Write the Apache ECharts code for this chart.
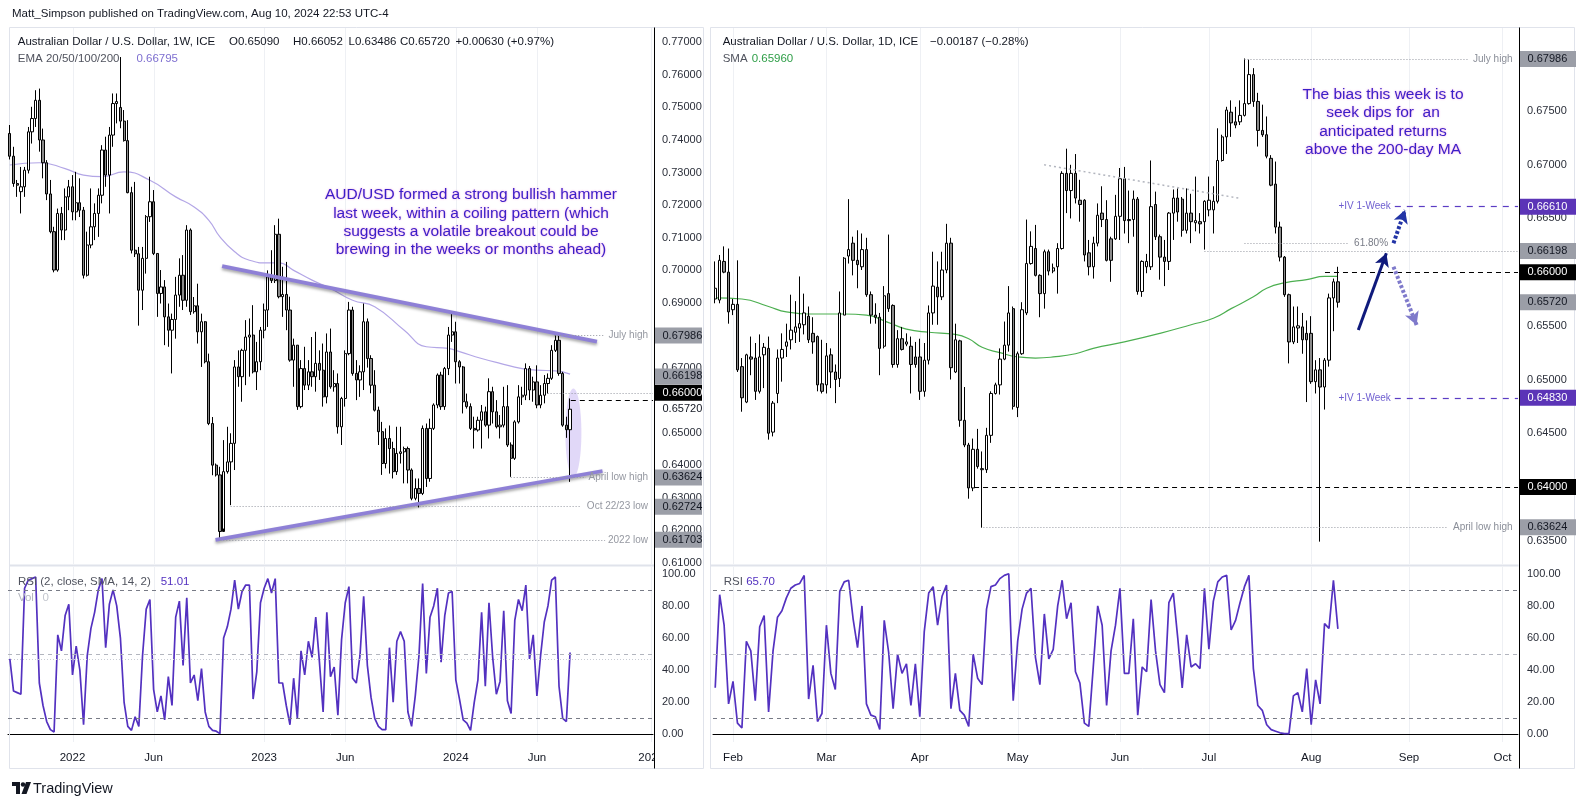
<!DOCTYPE html>
<html><head><meta charset="utf-8">
<script src="https://cdn.jsdelivr.net/npm/echarts@6/dist/echarts.min.js"></script>
<style>html,body{margin:0;padding:0;background:#fff;}#c{width:1584px;height:806px;}</style>
</head><body><div id="c"></div>
<script>
// ---------------- DATA ----------------
// Weekly AUD/USD candles from week of 2021-09-06: [open, close, low, high]
const weeklyCandles = [
[0.7420,0.7350,0.7340,0.7446],[0.7350,0.7266,0.7256,0.7379],[0.7266,0.7261,0.7225,0.7277],[0.7241,0.7256,0.7174,0.7317],[0.7256,0.7307,0.7225,0.7317],
[0.7307,0.7425,0.7297,0.7440],[0.7425,0.7466,0.7389,0.7502],[0.7466,0.7522,0.7440,0.7553],[0.7522,0.7400,0.7364,0.7558],[0.7400,0.7330,0.7282,0.7435],
[0.7330,0.7234,0.7215,0.7338],[0.7234,0.7118,0.7113,0.7277],[0.7118,0.7000,0.6993,0.7133],[0.7000,0.7174,0.6995,0.7189],[0.7174,0.7123,0.7092,0.7194],
[0.7123,0.7225,0.7092,0.7251],[0.7225,0.7256,0.7184,0.7277],[0.7256,0.7179,0.7153,0.7292],[0.7179,0.7207,0.7153,0.7302],[0.7207,0.7184,0.7163,0.7282],
[0.7184,0.6984,0.6974,0.7194],[0.6984,0.7077,0.6980,0.7118],[0.7077,0.7133,0.7067,0.7251],[0.7133,0.7174,0.7092,0.7205],[0.7174,0.7230,0.7102,0.7251],
[0.7230,0.7369,0.7205,0.7384],[0.7369,0.7292,0.7256,0.7410],[0.7292,0.7415,0.7174,0.7440],[0.7415,0.7512,0.7379,0.7543],[0.7512,0.7518,0.7451,0.7543],
[0.7500,0.7458,0.7436,0.7655],[0.7458,0.7398,0.7395,0.7492],[0.7398,0.7238,0.7236,0.7461],[0.7238,0.7061,0.7051,0.7256],[0.7061,0.7050,0.7040,0.7271],
[0.7050,0.6938,0.6829,0.7071],[0.6938,0.7036,0.6877,0.7071],[0.7036,0.7164,0.6989,0.7169],[0.7164,0.7210,0.7148,0.7287],[0.7210,0.7051,0.7046,0.7246],
[0.7051,0.6928,0.6856,0.7051],[0.6928,0.6948,0.6897,0.7000],[0.6948,0.6856,0.6769,0.6969],[0.6856,0.6815,0.6764,0.6897],[0.6815,0.6848,0.6682,0.6866],
[0.6848,0.6923,0.6789,0.6979],[0.6923,0.6984,0.6887,0.7036],[0.6984,0.6907,0.6877,0.7046],[0.6907,0.7123,0.6887,0.7138],[0.7123,0.6872,0.6862,0.7128],
[0.6872,0.6890,0.6866,0.6917],[0.6890,0.6810,0.6774,0.6958],[0.6810,0.6841,0.6702,0.6866],[0.6841,0.6718,0.6713,0.6843],[0.6718,0.6528,0.6523,0.6743],
[0.6528,0.6400,0.6369,0.6548],[0.6400,0.6370,0.6365,0.6405],[0.6370,0.6196,0.6170,0.6395],[0.6196,0.6380,0.6205,0.6477],[0.6380,0.6410,0.6374,0.6518],
[0.6410,0.6467,0.6277,0.6498],[0.6467,0.6702,0.6385,0.6723],[0.6702,0.6672,0.6641,0.6753],[0.6672,0.6753,0.6595,0.6758],[0.6753,0.6794,0.6646,0.6846],
[0.6794,0.6800,0.6672,0.6851],[0.6800,0.6687,0.6682,0.6892],[0.6687,0.6718,0.6631,0.6779],[0.6718,0.6815,0.6692,0.6825],[0.6815,0.6877,0.6790,0.6897],
[0.6877,0.6979,0.6825,0.6999],[0.6979,0.6968,0.6960,0.7061],[0.6968,0.7110,0.6960,0.7138],[0.7110,0.6918,0.6913,0.7158],[0.6918,0.6925,0.6856,0.7010],
[0.6925,0.6877,0.6815,0.7025],[0.6877,0.6723,0.6718,0.6918],[0.6723,0.6769,0.6641,0.6789],[0.6769,0.6580,0.6570,0.6769],[0.6580,0.6697,0.6575,0.6723],
[0.6697,0.6646,0.6631,0.6764],[0.6646,0.6687,0.6631,0.6723],[0.6687,0.6672,0.6641,0.6794],[0.6672,0.6713,0.6626,0.6810],[0.6713,0.6692,0.6662,0.6753],
[0.6692,0.6610,0.6580,0.6774],[0.6610,0.6748,0.6590,0.6805],[0.6748,0.6641,0.6635,0.6820],[0.6641,0.6651,0.6626,0.6692],[0.6651,0.6518,0.6497,0.6682],
[0.6518,0.6605,0.6462,0.6610],[0.6605,0.6743,0.6580,0.6753],[0.6743,0.6877,0.6738,0.6902],[0.6877,0.6682,0.6675,0.6887],[0.6682,0.6662,0.6600,0.6723],
[0.6662,0.6687,0.6610,0.6707],[0.6687,0.6841,0.6631,0.6897],[0.6841,0.6728,0.6700,0.6851],[0.6728,0.6646,0.6621,0.6738],[0.6646,0.6569,0.6565,0.6692],
[0.6569,0.6503,0.6462,0.6580],[0.6503,0.6405,0.6370,0.6533],[0.6405,0.6482,0.6390,0.6513],[0.6482,0.6451,0.6374,0.6522],[0.6451,0.6380,0.6359,0.6472],
[0.6380,0.6436,0.6370,0.6518],[0.6436,0.6441,0.6405,0.6518],[0.6441,0.6451,0.6344,0.6457],[0.6451,0.6385,0.6344,0.6457],[0.6385,0.6298,0.6292,0.6390],
[0.6298,0.6328,0.6292,0.6359],[0.6328,0.6313,0.6270,0.6359],[0.6313,0.6513,0.6308,0.6522],[0.6513,0.6359,0.6333,0.6528],[0.6359,0.6513,0.6349,0.6543],
[0.6513,0.6585,0.6508,0.6590],[0.6585,0.6677,0.6575,0.6682],[0.6677,0.6580,0.6570,0.6687],[0.6580,0.6697,0.6570,0.6702],[0.6697,0.6800,0.6677,0.6825],
[0.6800,0.6810,0.6779,0.6872],[0.6810,0.6718,0.6651,0.6841],[0.6718,0.6702,0.6651,0.6723],[0.6702,0.6595,0.6559,0.6705],[0.6595,0.6580,0.6574,0.6620],
[0.6580,0.6513,0.6508,0.6590],[0.6513,0.6508,0.6451,0.6549],[0.6508,0.6538,0.6503,0.6549],[0.6538,0.6564,0.6451,0.6585],[0.6564,0.6523,0.6518,0.6580],
[0.6523,0.6626,0.6482,0.6667],[0.6626,0.6564,0.6528,0.6641],[0.6564,0.6518,0.6513,0.6600],[0.6518,0.6523,0.6482,0.6554],[0.6523,0.6580,0.6516,0.6641],
[0.6580,0.6462,0.6456,0.6646],[0.6462,0.6421,0.6364,0.6470],[0.6421,0.6533,0.6416,0.6538],[0.6533,0.6610,0.6528,0.6646],[0.6610,0.6615,0.6585,0.6641],
[0.6615,0.6697,0.6600,0.6713],[0.6697,0.6631,0.6600,0.6705],[0.6631,0.6656,0.6595,0.6672],[0.6656,0.6585,0.6575,0.6707],[0.6585,0.6615,0.6575,0.6646],
[0.6615,0.6651,0.6590,0.6677],[0.6651,0.6667,0.6620,0.6682],[0.6667,0.6753,0.6662,0.6769],[0.6753,0.6784,0.6748,0.6799],[0.6784,0.6682,0.6675,0.6799],
[0.6682,0.6523,0.6518,0.6687],[0.6523,0.6509,0.6484,0.6549],[0.65090,0.65720,0.63486,0.66052]
];
// Weekly RSI(2)
const weeklyRSI = [
47,27,26,25,91,96,97,98,32,18, 8,3,1.5,62,52,74,81,37,55,40, 6,49,66,76,90,97,54,81,90,80,
60,20,5,2.5,11,5,49,78,84,28, 14,24,9,36,18,73,83,43,85,32, 37,21,41,14,5,2.5,2,0.5,60,67,
78,96,78,89,93,93,22,39,82,91, 97,88,97,32,32,18,6,35,10,52, 37,58,48,73,45,14,76,36,42,12,
59,82,92,35,32,49,86,43,23,10, 5,3,3,54,20,58,64,58,14,5, 24,49,94,38,73,80,91,45,74,88,
89,34,22,9,7,2.5,20,34,76,30, 82,48,25,33,77,21,13,71,84,77, 93,47,62,24,49,70,80,96,98,30,
10,8,51.01
];
// Weekly EMA line read at [week index, value]
const emaPoints = [[0,0.7323],[8,0.7330],[15,0.7312],[20,0.7292],[25,0.7287],[31,0.7302],[38,0.7276],[45,0.7225],[50,0.7194],[54,0.7153],[57,0.7102],[61,0.7056],[65,0.7030],[70,0.7022],[73,0.7022],[77,0.6999],[82,0.6969],[87,0.6943],[93,0.6907],[99,0.6887],[107,0.6815],[113,0.6764],[119,0.6759],[122,0.6749],[128,0.6728],[133,0.6713],[139,0.6697],[143,0.6692],[148,0.6690],[152,0.6680]];

// Daily candles from 2024-01-26 (weekdays): [open, close, low, high]
const dailyCandles = [
[0.6575,0.6585,0.6571,0.6610],[0.6574,0.6611,0.6571,0.6616],[0.6610,0.6600,0.6599,0.6624],[0.6600,0.6563,0.6552,0.6622],[0.6565,0.6570,0.6560,0.6575],
[0.6570,0.6509,0.6507,0.6611],[0.6512,0.6483,0.6470,0.6520],[0.6479,0.6523,0.6478,0.6524],[0.6521,0.6519,0.6504,0.6540],[0.6520,0.6489,0.6481,0.6534],
[0.6489,0.6521,0.6487,0.6542],[0.6523,0.6530,0.6492,0.6534],[0.6529,0.6450,0.6444,0.6540],[0.6451,0.6478,0.6447,0.6480],[0.6487,0.6520,0.6478,0.6528],
[0.6520,0.6528,0.6498,0.6543],[0.6531,0.6535,0.6521,0.6552],[0.6537,0.6546,0.6528,0.6579],[0.6544,0.6549,0.6534,0.6573],[0.6548,0.6552,0.6535,0.6596],
[0.6551,0.6562,0.6542,0.6580],[0.6559,0.6537,0.6534,0.6568],[0.6543,0.6535,0.6524,0.6558],[0.6540,0.6495,0.6489,0.6541],[0.6496,0.6489,0.6487,0.6537],
[0.6495,0.6522,0.6487,0.6534],[0.6523,0.6507,0.6492,0.6529],[0.6507,0.6500,0.6478,0.6514],[0.6501,0.6562,0.6493,0.6582],[0.6560,0.6613,0.6560,0.6614],
[0.6615,0.6621,0.6608,0.6668],[0.6627,0.6611,0.6597,0.6633],[0.6611,0.6607,0.6585,0.6639],[0.6605,0.6621,0.6602,0.6636],[0.6621,0.6579,0.6577,0.6632],
[0.6579,0.6560,0.6552,0.6582],[0.6560,0.6558,0.6552,0.6571],[0.6558,0.6529,0.6504,0.6562],[0.6531,0.6578,0.6529,0.6587],[0.6580,0.6566,0.6563,0.6635],
[0.6569,0.6514,0.6511,0.6570],[0.6514,0.6538,0.6511,0.6546],[0.6538,0.6528,0.6527,0.6549],[0.6533,0.6535,0.6531,0.6543],[0.6531,0.6514,0.6487,0.6540],
[0.6521,0.6514,0.6511,0.6535],[0.6521,0.6489,0.6481,0.6538],[0.6489,0.6518,0.6484,0.6534],[0.6518,0.6562,0.6514,0.6569],[0.6562,0.6587,0.6551,0.6619],
[0.6586,0.6577,0.6551,0.6610],[0.6577,0.6602,0.6574,0.6619],[0.6602,0.6627,0.6599,0.6645],[0.6627,0.6511,0.6500,0.6632],[0.6507,0.6537,0.6506,0.6552],
[0.6536,0.6462,0.6456,0.6537],[0.6462,0.6439,0.6437,0.6493],[0.6439,0.6399,0.6389,0.6441],[0.6399,0.6435,0.6396,0.6445],[0.6435,0.6419,0.6417,0.6454],
[0.6416,0.6417,0.6362,0.6433],[0.6416,0.6448,0.6413,0.6455],[0.6448,0.6487,0.6441,0.6489],[0.6487,0.6495,0.6486,0.6497],[0.6495,0.6519,0.6486,0.6529],
[0.6519,0.6532,0.6518,0.6554],[0.6532,0.6562,0.6526,0.6587],[0.6566,0.6475,0.6472,0.6568],[0.6474,0.6524,0.6465,0.6526],[0.6524,0.6565,0.6523,0.6572],
[0.6562,0.6608,0.6560,0.6649],[0.6608,0.6624,0.6607,0.6638],[0.6622,0.6597,0.6596,0.6644],[0.6597,0.6580,0.6558,0.6598],[0.6580,0.6619,0.6566,0.6621],
[0.6619,0.6601,0.6597,0.6621],[0.6601,0.6604,0.6599,0.6608],[0.6605,0.6622,0.6580,0.6627],[0.6622,0.6692,0.6621,0.6694],[0.6692,0.6676,0.6655,0.6715],
[0.6676,0.6692,0.6650,0.6700],[0.6692,0.6669,0.6664,0.6710],[0.6667,0.6663,0.6647,0.6686],[0.6667,0.6616,0.6610,0.6668],[0.6618,0.6605,0.6597,0.6630],
[0.6605,0.6627,0.6594,0.6633],[0.6627,0.6653,0.6624,0.6664],[0.6655,0.6649,0.6642,0.6680],[0.6649,0.6611,0.6610,0.6667],[0.6631,0.6611,0.6591,0.6633],
[0.6631,0.6652,0.6630,0.6672],[0.6652,0.6687,0.6630,0.6697],[0.6687,0.6648,0.6636,0.6698],[0.6649,0.6648,0.6627,0.6676],[0.6649,0.6668,0.6633,0.6676],
[0.6668,0.6582,0.6579,0.6670],[0.6582,0.6610,0.6577,0.6611],[0.6605,0.6610,0.6599,0.6617],[0.6605,0.6661,0.6602,0.6704],[0.6663,0.6633,0.6630,0.6675],
[0.6633,0.6614,0.6593,0.6635],[0.6614,0.6610,0.6587,0.6630],[0.6610,0.6655,0.6602,0.6656],[0.6655,0.6669,0.6630,0.6677],[0.6669,0.6656,0.6647,0.6678],
[0.6668,0.6639,0.6633,0.6670],[0.6639,0.6655,0.6636,0.6678],[0.6655,0.6647,0.6627,0.6673],[0.6646,0.6648,0.6638,0.6689],[0.6647,0.6645,0.6636,0.6655],
[0.6647,0.6666,0.6621,0.6667],[0.6658,0.6667,0.6652,0.6689],[0.6658,0.6666,0.6636,0.6680],[0.6666,0.6704,0.6664,0.6734],[0.6704,0.6726,0.6703,0.6728],
[0.6726,0.6751,0.6710,0.6754],[0.6749,0.6739,0.6726,0.6760],[0.6740,0.6737,0.6734,0.6754],[0.6740,0.6746,0.6737,0.6760],[0.6746,0.6757,0.6745,0.6799],
[0.6757,0.6784,0.6756,0.6798],[0.6784,0.6759,0.6754,0.6790],[0.6759,0.6732,0.6717,0.6767],[0.6732,0.6728,0.6726,0.6756],[0.6728,0.6708,0.6706,0.6745],
[0.6706,0.6681,0.6680,0.6709],[0.6682,0.6642,0.6636,0.6703],[0.6642,0.6614,0.6610,0.6647],[0.6614,0.6579,0.6577,0.6615],[0.6579,0.6535,0.6515,0.6580],
[0.6535,0.6549,0.6533,0.6568],[0.6548,0.6550,0.6534,0.6568],[0.6549,0.6537,0.6524,0.6562],[0.6543,0.6537,0.6479,0.6555],[0.6543,0.6498,0.6496,0.6559],
[0.6498,0.6509,0.6487,0.6518],[0.6509,0.6493,0.6349,0.6520],[0.6493,0.6518,0.6472,0.6520],[0.6518,0.6576,0.6512,0.6580],[0.6576,0.6591,0.6545,0.6594],
[0.6591,0.6572,0.6567,0.6605]
];
// Daily RSI
const dailyRSI = [
29,87,68,19,33,7,4,58,52,21, 67,74,14,52,73,77,85,91,93,94, 99,22,43,8,13,68,38,28,89,95,
96,72,54,80,19,12,11,3,71,51, 16,50,38,44,18,44,11,64,88,92, 68,86,93,16,38,15,12,5,50,35,
31,78,92,93,97,99,100,21,58,78, 88,91,48,31,75,47,53,80,96,72, 82,39,32,7,5,42,80,68,18,52,
68,91,38,38,72,12,42,39,84,52, 31,26,82,88,60,29,62,42,44,41, 91,53,83,95,98,99,65,71,82,92,
99,41,18,15,6,3,2,1,0.5,0.5, 24,26,14,41,6,34,19,69,66,96, 65.70
];
// 200-day SMA read at [day index, value]
const smaPoints = [[0,0.6576],[6,0.6575],[12,0.6568],[16,0.6563],[23,0.6561],[29,0.6561],[34,0.6560],[39,0.6553],[43,0.6547],[48,0.6544],[54,0.6542],[57,0.6538],[60,0.6530],[64,0.6525],[68,0.6521],[72,0.6520],[76,0.6521],[81,0.6524],[85,0.6529],[92,0.6535],[100,0.6543],[107,0.6551],[112,0.6557],[116,0.6566],[121,0.6577],[124,0.6585],[128,0.6590],[133,0.6593],[137,0.6596],[140,0.6596]];

// Tick labels
const weekTickIdx = [17,39,69,91,121,143,174];
const weekTickText = ['2022','Jun','2023','Jun','2024','Jun','2025'];
const dayTickIdx = [4,25,46,68,91,111,134,156,177];
const dayTickText = ['Feb','Mar','Apr','May','Jun','Jul','Aug','Sep','Oct'];
const leftPriceTicks = [0.61,0.62,0.63,0.64,0.65,0.67,0.69,0.70,0.71,0.72,0.73,0.74,0.75,0.76,0.77];
const rightPriceTicks = [0.635,0.645,0.65,0.655,0.665,0.67,0.675];
const rsiTicks = [0,20,40,60,80,100];
const rsiLevels = [90,50,10];

// Price levels (annotations)
const leftLevels = [
  {v:0.67986, from:147.7, to:161.0, kind:'dot', text:'July high'},
  {v:0.66198, from:145.9, to:174.5, kind:'dot'},
  {v:0.66000, from:152.2, to:174.5, kind:'dash'},
  {v:0.63624, from:135.9, to:156.3, kind:'dot', text:'April low high'},
  {v:0.62724, from:59.9, to:154.9, kind:'dot', text:'Oct 22/23 low'},
  {v:0.61703, from:57.1, to:161.5, kind:'dot', text:'2022 low'}
];
const rightLevels = [
  {v:0.67986, from:119, to:169.4, kind:'dot', text:'July high', at:'edge'},
  {v:0.66269, from:119, to:142.3, kind:'dot', text:'61.80%', at:'after'},
  {v:0.66198, from:110, to:180.5, kind:'dot'},
  {v:0.66000, from:137.1, to:180.5, kind:'dash'},
  {v:0.66610, from:152.8, to:180.5, kind:'iv', text:'+IV 1-Week', at:'before'},
  {v:0.64830, from:152.8, to:180.5, kind:'iv', text:'+IV 1-Week', at:'before'},
  {v:0.64000, from:58.2, to:180.5, kind:'dash'},
  {v:0.63624, from:60.3, to:164.5, kind:'dot', text:'April low high', at:'edge'}
];
const leftTags = [
  {v:0.67986,k:'gray'},{v:0.66198,k:'gray'},{v:0.66000,k:'black'},{v:0.65720,k:'plain'},
  {v:0.63624,k:'gray'},{v:0.62724,k:'gray'},{v:0.61703,k:'gray'}
];
const rightTags = [
  {v:0.67986,k:'gray'},{v:0.66610,k:'purple'},{v:0.66198,k:'gray'},{v:0.66000,k:'black'},
  {v:0.65720,k:'gray'},{v:0.64830,k:'purple'},{v:0.64000,k:'black'},{v:0.63624,k:'gray'}
];
const upperTrend = [[57.6,0.7012],[159.3,0.6780]];
const lowerTrend = [[55.8,0.6170],[160.8,0.6382]];
const diagDotted = [[73.95,0.6700],[117.9,0.66688]];
const arrows = [
  {from:[144.6,0.65461], to:[150.9,0.66176], kind:'solid'},
  {from:[152.5,0.66269], to:[155.1,0.66579], kind:'dotNavy'},
  {from:[152.5,0.66051], to:[157.7,0.65508], kind:'dotLav'}
];
const hammerEllipse = {x:152.9, v:0.6500, vHalf:0.0136};

// ---------------- CHART ----------------
const WEEK_SLOTS = 175, DAY_SLOTS = 181;
function weekCats(n){const o=[];let t=Date.UTC(2021,8,6);for(let i=0;i<n;i++){o.push(new Date(t).toISOString().slice(0,10));t+=7*864e5;}return o;}
function dayCats(n){const o=[];let t=Date.UTC(2024,0,26);while(o.length<n){const d=new Date(t);const w=d.getUTCDay();if(w!==0&&w!==6)o.push(d.toISOString().slice(0,10));t+=864e5;}return o;}

const FONT = '"Liberation Sans", Arial, sans-serif';
const chart = echarts.init(document.getElementById('c'), null, {renderer:'canvas', width:1584, height:806});

const lineKinds = {
  dot:{color:'#9598a1', width:1, type:[1,2]},
  dash:{color:'#000000', width:1.2, type:[5,4]},
  iv:{color:'#5b3cc4', width:1.2, type:[6,6]}
};
const arrowKinds = {
  solid:{color:'#0f1a7c', width:3, type:'solid'},
  dotNavy:{color:'#2234a6', width:4, type:[3,2]},
  dotLav:{color:'#7f7acb', width:4, type:[3,2]}
};
function levelData(levels){
  return levels.map(l=>[{coord:[l.from,l.v], lineStyle:lineKinds[l.kind]},{coord:[l.to,l.v], lineStyle:lineKinds[l.kind]}]);
}
const candleStyle = {color:'#ffffff', color0:'#8a8a8a', borderColor:'#000000', borderColor0:'#000000', borderWidth:1};
const priceLabel = (ticks)=>({customValues:ticks, formatter:v=>Number(v).toFixed(5), color:'#2a2e39', fontSize:11, margin:9, fontFamily:FONT});
const rsiLabel = {customValues:rsiTicks, formatter:v=>Number(v).toFixed(2), color:'#2a2e39', fontSize:11, margin:9, fontFamily:FONT};
const noAxisBits = {axisLine:{show:false}, axisTick:{show:false}, splitLine:{show:false}};
function rsiMark(extra){
  const d = rsiLevels.map(v=>({yAxis:v, lineStyle:{color: v===50?'#b2b5be':'#787b86', type:[4,4], width:1}}));
  return {silent:true, symbol:['none','none'], label:{show:false}, animation:false, data:d.concat(extra||[])};
}

const option = {
  animation:false,
  backgroundColor:'#ffffff',
  textStyle:{fontFamily:FONT},
  grid:[
    {left:8, top:28, width:645, height:535, outerBoundsMode:'none', containLabel:false},
    {left:8, top:569, width:645, height:173.5, outerBoundsMode:'none', containLabel:false},
    {left:713, top:28, width:805, height:535, outerBoundsMode:'none', containLabel:false},
    {left:713, top:569, width:805, height:173.5, outerBoundsMode:'none', containLabel:false}
  ],
  xAxis:[
    {type:'category', gridIndex:0, data:weekCats(WEEK_SLOTS), show:false, boundaryGap:true},
    {type:'value', gridIndex:0, min:-0.5, max:WEEK_SLOTS-0.5, show:false},
    {type:'value', gridIndex:1, min:-0.5, max:WEEK_SLOTS-0.5, position:'bottom',
      axisLine:{show:true, lineStyle:{color:'#000', width:1}}, axisTick:{show:false}, splitLine:{show:false},
      axisLabel:{customValues:weekTickIdx, formatter:v=>{const k=weekTickIdx.indexOf(Math.round(v));return k<0?'':weekTickText[k];}, color:'#131722', fontSize:11.5, margin:9, fontFamily:FONT}},
    {type:'category', gridIndex:2, data:dayCats(DAY_SLOTS), show:false, boundaryGap:true},
    {type:'value', gridIndex:2, min:-0.5, max:DAY_SLOTS-0.5, show:false},
    {type:'value', gridIndex:3, min:-0.5, max:DAY_SLOTS-0.5, position:'bottom',
      axisLine:{show:true, lineStyle:{color:'#000', width:1}}, axisTick:{show:false}, splitLine:{show:false},
      axisLabel:{customValues:dayTickIdx, formatter:v=>{const k=dayTickIdx.indexOf(Math.round(v));return k<0?'':dayTickText[k];}, color:'#131722', fontSize:11.5, margin:9, fontFamily:FONT}}
  ],
  yAxis:[
    Object.assign({type:'value', gridIndex:0, min:0.60991, max:0.77443, position:'right', axisLabel:priceLabel(leftPriceTicks)}, noAxisBits),
    Object.assign({type:'value', gridIndex:1, min:-5.04, max:102.99, position:'right', axisLabel:rsiLabel}, noAxisBits),
    Object.assign({type:'value', gridIndex:2, min:0.63291, max:0.68274, position:'right', axisLabel:priceLabel(rightPriceTicks)}, noAxisBits),
    Object.assign({type:'value', gridIndex:3, min:-5.04, max:102.99, position:'right', axisLabel:rsiLabel}, noAxisBits)
  ],
  series:[
    {name:'AUDUSD 1W', type:'candlestick', xAxisIndex:0, yAxisIndex:0, data:weeklyCandles, barWidth:2.7, itemStyle:candleStyle, z:3},
    {name:'EMA', type:'line', xAxisIndex:1, yAxisIndex:0, data:emaPoints, smooth:0.5, symbol:'none', silent:true,
      lineStyle:{color:'#b3a6e6', width:1.2}, z:2,
      markLine:{silent:true, symbol:['none','none'], label:{show:false}, animation:false, data:levelData(leftLevels)}},
    {name:'Upper trend', type:'line', xAxisIndex:1, yAxisIndex:0, data:upperTrend, symbol:'none', silent:true, z:4,
      lineStyle:{color:'#8e80d6', width:3.8, shadowColor:'rgba(0,0,0,0.35)', shadowBlur:3, shadowOffsetY:2}},
    {name:'Lower trend', type:'line', xAxisIndex:1, yAxisIndex:0, data:lowerTrend, symbol:'none', silent:true, z:4,
      lineStyle:{color:'#8e80d6', width:3.8, shadowColor:'rgba(0,0,0,0.35)', shadowBlur:3, shadowOffsetY:2}},
    {name:'RSI W', type:'line', xAxisIndex:2, yAxisIndex:1, data:weeklyRSI.map((v,i)=>[i,v]), symbol:'none', silent:true,
      lineStyle:{color:'#5331c0', width:1.7}, z:3,
      markLine:rsiMark([{yAxis:46.7, lineStyle:{color:'#c9ccd4', type:[1,2], width:1}}])},
    {name:'AUDUSD 1D', type:'candlestick', xAxisIndex:3, yAxisIndex:2, data:dailyCandles, barWidth:2.9, itemStyle:candleStyle, z:3},
    {name:'SMA', type:'line', xAxisIndex:4, yAxisIndex:2, data:smaPoints, smooth:0.5, symbol:'none', silent:true,
      lineStyle:{color:'#4caf50', width:1.2}, z:2,
      markLine:{silent:true, symbol:['none','none'], label:{show:false}, animation:false,
        data: levelData(rightLevels).concat([
          [{coord:diagDotted[0], lineStyle:{color:'#b2b5be', width:1.5, type:[2,3]}},{coord:diagDotted[1], lineStyle:{color:'#b2b5be', width:1.5, type:[2,3]}}]
        ])}},
    {name:'Arrows', type:'line', xAxisIndex:4, yAxisIndex:2, data:[[0,null]], symbol:'none', silent:true, z:6,
      markLine:{silent:true, symbol:['none','none'], label:{show:false}, animation:false,
        data: arrows.map(a=>[{coord:a.from, symbol:'none', lineStyle:arrowKinds[a.kind]},{coord:a.to, symbol:'arrow', symbolSize:[11,13], lineStyle:arrowKinds[a.kind], itemStyle:{color:arrowKinds[a.kind].color}}])}},
    {name:'RSI D', type:'line', xAxisIndex:5, yAxisIndex:3, data:dailyRSI.map((v,i)=>[i,v]), symbol:'none', silent:true,
      lineStyle:{color:'#5331c0', width:1.7}, z:3, markLine:rsiMark()}
  ]
};
chart.setOption(option);

// ---------------- GRAPHIC OVERLAYS ----------------
function txt(x,y,text,opts){
  opts=opts||{};
  return {type:'text', x:x, y:y, z:opts.z||100, silent:true, style:{
    text:text, fill:opts.color||'#131722', font:(opts.weight||'normal')+' '+(opts.size||11.5)+'px '+FONT,
    align:opts.align||'left', verticalAlign:opts.va||'middle', textAlign:opts.align||'left', textVerticalAlign:opts.va||'middle',
    lineHeight:opts.lh, textShadowColor:opts.sc, textShadowBlur:opts.sb||0
  }};
}
function line(x1,y1,x2,y2,color,w,z){return {type:'line', silent:true, z:z||0, shape:{x1:x1,y1:y1,x2:x2,y2:y2}, style:{stroke:color, lineWidth:w||1}};}
function rect(x,y,w,h,fill,stroke,z){return {type:'rect', silent:true, z:z||0, shape:{x:x,y:y,width:w,height:h}, style:{fill:fill, stroke:stroke||null, lineWidth:1}};}

const g = [];
const xL = v=>chart.convertToPixel({xAxisIndex:1}, v);
const xR = v=>chart.convertToPixel({xAxisIndex:4}, v);
const yL = v=>chart.convertToPixel({yAxisIndex:0}, v);
const yR = v=>chart.convertToPixel({yAxisIndex:2}, v);
const axL = xL(WEEK_SLOTS-0.5)+1, axR = xR(DAY_SLOTS-0.5)+0.5;

// frames
g.push(rect(9.5,27.5,694,741,'rgba(0,0,0,0)','#e0e3eb',1));
g.push(rect(710.5,27.5,864,741,'rgba(0,0,0,0)','#e0e3eb',1));
g.push(line(9.5,565.5,axL,565.5,'#e0e3eb',2,1));
g.push(line(711,565.5,axR,565.5,'#e0e3eb',2,1));
// vertical gridlines
weekTickIdx.forEach(i=>{const x=Math.round(xL(i))+0.5; g.push(line(x,28,x,564,'#eef0f4',1,0)); g.push(line(x,567,x,742,'#eef0f4',1,0));});
dayTickIdx.forEach(i=>{const x=Math.round(xR(i))+0.5; g.push(line(x,28,x,564,'#eef0f4',1,0)); g.push(line(x,567,x,742,'#eef0f4',1,0));});
// axis vertical lines
g.push(line(Math.round(axL)+0.5,27.5,Math.round(axL)+0.5,768.5,'#000',1,50));
g.push(line(Math.round(axR)+0.5,27.5,Math.round(axR)+0.5,768.5,'#000',1,50));
// cover the price-scale column under the time axis (clips "2025")
g.push(rect(Math.round(axL)+1,744,703-Math.round(axL)-1,24,'#ffffff',null,90));

// level texts
leftLevels.forEach(l=>{ if(l.text) g.push(txt(axL-6, yL(l.v), l.text, {align:'right', size:10, color:'#9598a1', z:60})); });
rightLevels.forEach(l=>{
  if(!l.text) return;
  const y=yR(l.v); const col = l.kind==='iv' ? '#6f5fd0' : '#8a8e98';
  if(l.at==='edge') g.push(txt(axR-6, y, l.text, {align:'right', size:10, color:col, z:60}));
  else if(l.at==='after') g.push(txt(xR(l.to)+6, y, l.text, {align:'left', size:10, color:'#787b86', z:60}));
  else g.push(txt(xR(l.from)-4, y, l.text, {align:'right', size:10, color:col, z:60}));
});

// price tags with stacking
const tagStyle = {gray:{bg:'#9b9ea7', fg:'#131722'}, black:{bg:'#000000', fg:'#ffffff'}, purple:{bg:'#5b34b7', fg:'#ffffff'}, plain:{bg:'#ffffff', fg:'#131722'}};
function tags(list, yFn, ax, w){
  const items = list.map(t=>({t:t, y:yFn(t.v)})).sort((a,b)=>b.y-a.y);
  let prev = null;
  items.forEach(it=>{ if(prev!==null && it.y>prev-16.4) it.y = prev-16.4; prev = it.y; });
  items.forEach(it=>{
    const s = tagStyle[it.t.k];
    g.push(rect(ax+0.5, it.y-8, w, 16, s.bg, null, 100));
    g.push(txt(ax+8, it.y, it.t.v.toFixed(5), {size:11, color:s.fg, z:101}));
  });
}
tags(leftTags, yL, Math.round(axL)+0.5, 47);
tags(rightTags, yR, Math.round(axR)+0.5, 56);

// hammer ellipse
(function(){
  const cx = xL(hammerEllipse.x), cy = yL(hammerEllipse.v);
  const ry = Math.abs(yL(hammerEllipse.v+hammerEllipse.vHalf)-cy);
  g.push({type:'ellipse', silent:true, z:1, shape:{cx:cx, cy:cy, rx:8, ry:ry}, style:{fill:'rgba(196,178,242,0.5)'}});
})();

// headers
g.push(txt(12,14,'Matt_Simpson published on TradingView.com, Aug 10, 2024 22:53 UTC-4',{size:11.5}));
g.push(txt(17.8,41.5,'Australian Dollar / U.S. Dollar, 1W, ICE',{size:11.5}));
g.push(txt(229,41.5,'O0.65090',{size:11.5}));
g.push(txt(293,41.5,'H0.66052',{size:11.5}));
g.push(txt(348.5,41.5,'L0.63486',{size:11.5}));
g.push(txt(400,41.5,'C0.65720',{size:11.5}));
g.push(txt(455.5,41.5,'+0.00630 (+0.97%)',{size:11.5}));
g.push(txt(17.8,58.6,'EMA 20/50/100/200',{size:11.5, color:'#50535e'}));
g.push(txt(136.4,58.6,'0.66795',{size:11.5, color:'#7e6fd0'}));
g.push(txt(722.7,41.5,'Australian Dollar / U.S. Dollar, 1D, ICE',{size:11.5}));
g.push(txt(930,41.5,'\u22120.00187 (\u22120.28%)',{size:11.5}));
g.push(txt(722.7,58.4,'SMA',{size:11.5, color:'#50535e'}));
g.push(txt(751.7,58.4,'0.65960',{size:11.5, color:'#2e9e47'}));
g.push(txt(17.9,581.5,'RSI (2, close, SMA, 14, 2)',{size:11.5, color:'#50535e'}));
g.push(txt(160.7,581.5,'51.01',{size:11.5, color:'#5331c0'}));
g.push(txt(17.9,597.5,'Vol',{size:11.5, color:'#b2b5be'}));
g.push(txt(42.4,597.5,'0',{size:11.5, color:'#c3c6ce'}));
g.push(txt(723.7,581.5,'RSI',{size:11.5, color:'#50535e'}));
g.push(txt(746.2,581.5,'65.70',{size:11.5, color:'#5331c0'}));

// annotation texts
g.push(txt(471,186,'AUD/USD formed a strong bullish hammer\nlast week, within a coiling pattern (which\nsuggests a volatile breakout could be\nbrewing in the weeks or months ahead)',
  {align:'center', va:'top', size:15.5, lh:18.2, color:'#3a1fc8', sc:'rgba(236,72,200,0.55)', sb:2, z:110}));
g.push(txt(1383,86,'The bias this week is to\nseek dips for  an\nanticipated returns\nabove the 200-day MA',
  {align:'center', va:'top', size:15.5, lh:18.1, color:'#3a1fc8', sc:'rgba(236,72,200,0.55)', sb:2, z:110}));

// TradingView footer logo
g.push(rect(12,782,8,4,'#131722',null,100));
g.push(rect(16,782,4,12,'#131722',null,100));
g.push({type:'circle', silent:true, z:100, shape:{cx:23,cy:784.5,r:2.2}, style:{fill:'#131722'}});
g.push({type:'polygon', silent:true, z:100, shape:{points:[[26,782],[31,782],[26.5,794],[21.5,794]]}, style:{fill:'#131722'}});
g.push(txt(33,788.5,'TradingView',{size:14.5, color:'#131722'}));

chart.setOption({graphic:{elements:g}});
</script>
</body></html>
